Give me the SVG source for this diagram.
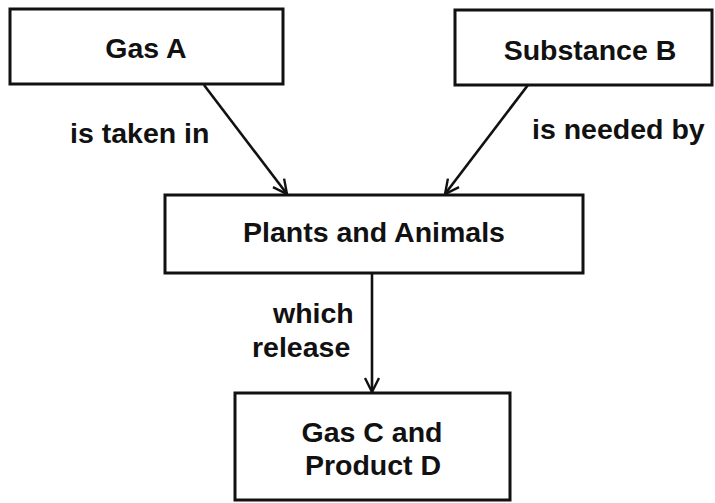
<svg xmlns="http://www.w3.org/2000/svg" width="715" height="503" viewBox="0 0 715 503">
<style>
.box{fill:#fff;stroke:#111;stroke-width:3}
.t{font-family:"Liberation Sans",Arial,sans-serif;font-weight:bold;font-size:28.5px;fill:#111}
.c{text-anchor:middle}
.edge{stroke:#111;stroke-width:2.6;fill:none}
</style>
<defs>
<marker id="arr" viewBox="0 0 20 20" refX="18" refY="10" markerWidth="20" markerHeight="20" markerUnits="userSpaceOnUse" orient="auto">
<polyline points="4,3 18,10 4,17" fill="none" stroke="#111" stroke-width="2.4"/>
</marker>
</defs>
<rect width="715" height="503" fill="#fff"/>
<g id="connectors">
<line class="edge" x1="204" y1="85" x2="287" y2="194" marker-end="url(#arr)"/>
<line class="edge" x1="528" y1="85" x2="445" y2="194" marker-end="url(#arr)"/>
<line class="edge" x1="372" y1="273" x2="372" y2="392" marker-end="url(#arr)"/>
<text class="t" x="70" y="143">is taken in</text>
<text class="t" x="532" y="139">is needed by</text>
<text class="t" x="273" y="323">which</text>
<text class="t" x="252" y="357">release</text>
</g>
<g id="gasA">
<rect class="box" x="10" y="9" width="273" height="75"/>
<text class="t c" x="146" y="58">Gas A</text>
</g>
<g id="substanceB">
<rect class="box" x="455" y="10" width="257" height="75"/>
<text class="t c" x="590" y="60">Substance B</text>
</g>
<g id="plantsAnimals">
<rect class="box" x="165" y="195" width="418" height="78"/>
<text class="t c" x="374" y="242">Plants and Animals</text>
</g>
<g id="gasCProductD">
<rect class="box" x="235" y="393" width="275" height="107"/>
<text class="t c" x="372" y="442">Gas C and</text>
<text class="t c" x="373" y="475">Product D</text>
</g>
</svg>
